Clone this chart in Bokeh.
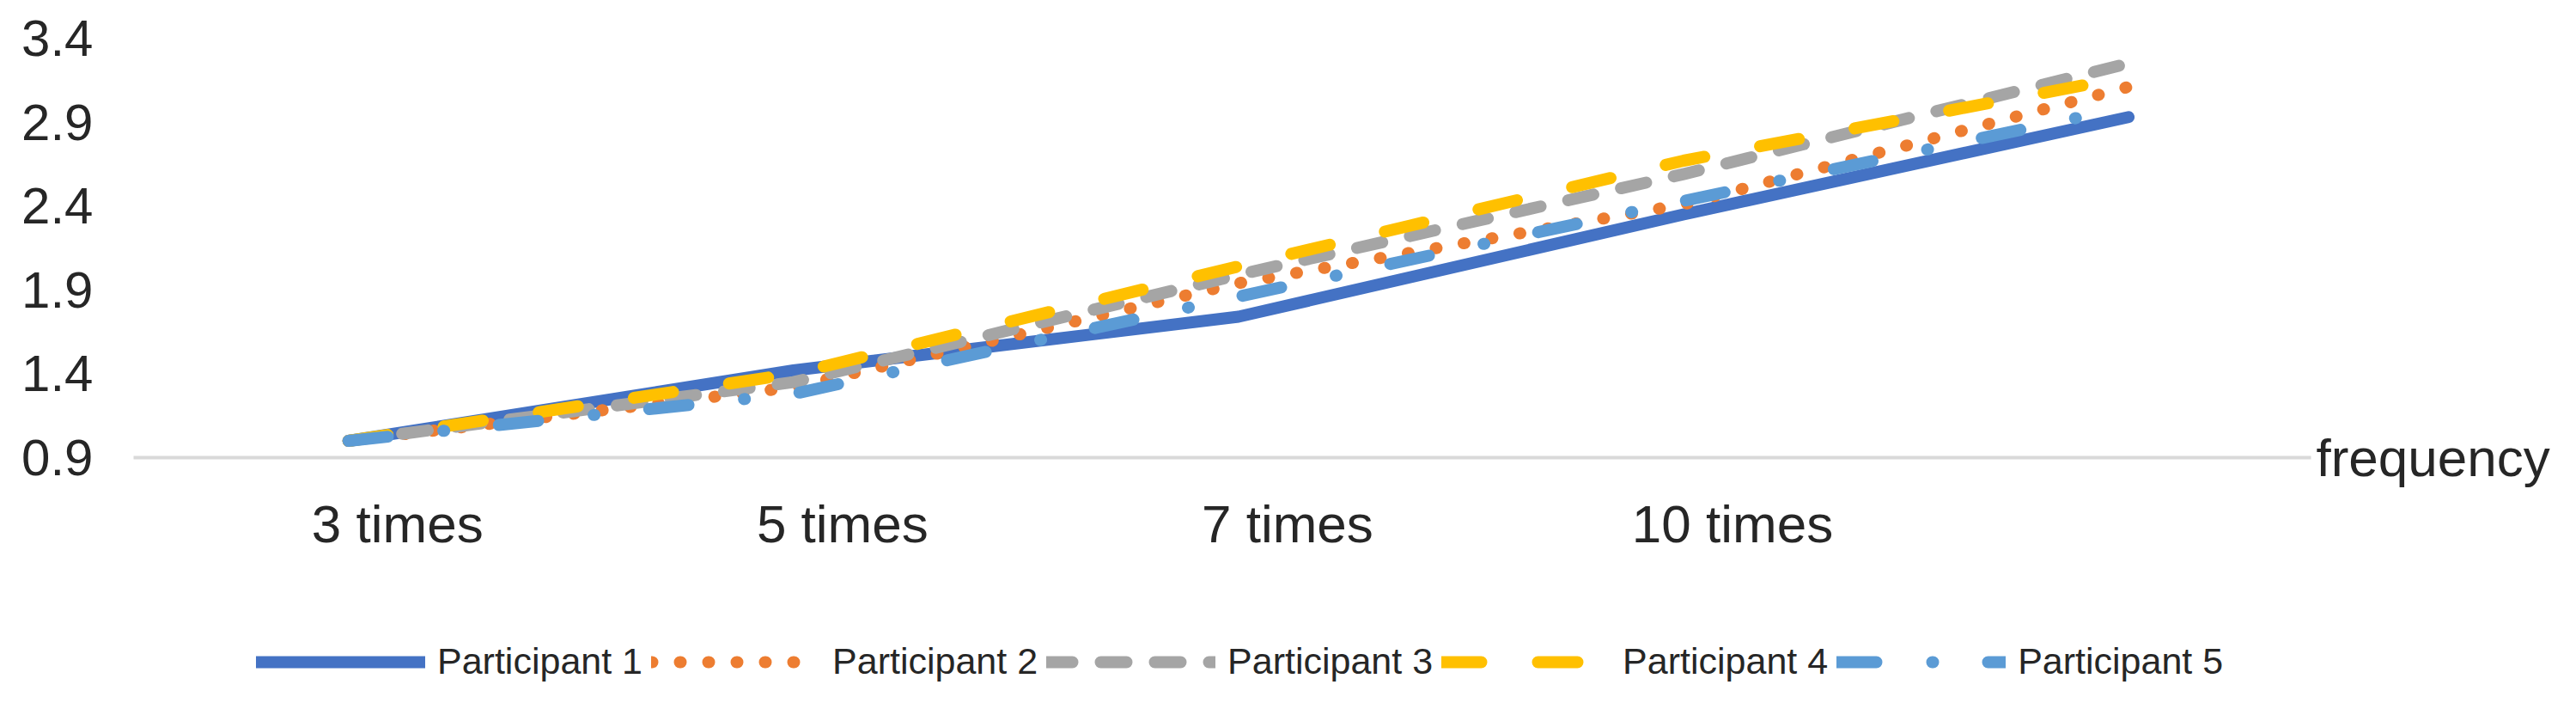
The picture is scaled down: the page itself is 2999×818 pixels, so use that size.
from bokeh.plotting import figure
from bokeh.models import Range1d, FixedTicker, Legend, LegendItem, LinearAxis
from bokeh.layouts import column
from bokeh.embed import file_html
from bokeh.resources import INLINE

# ---- data ----
categories = ["3 times", "5 times", "7 times", "10 times"]
x_points = [0, 1, 2, 3, 4]
participant_1 = [1.0, 1.42, 1.74, 2.35, 2.93]
participant_2 = [1.0, 1.32, 1.94, 2.41, 3.11]
participant_3 = [1.0, 1.35, 1.99, 2.59, 3.25]
participant_4 = [1.0, 1.40, 2.04, 2.67, 3.17]
participant_5 = [1.0, 1.28, 1.86, 2.43, 2.99]
series_names = ["Participant 1", "Participant 2", "Participant 3", "Participant 4", "Participant 5"]
y_ticks = [0.9, 1.4, 1.9, 2.4, 2.9, 3.4]
axis_title = "frequency"

# ---- styles ----
colors = ["#4472C4", "#ED7D31", "#A5A5A5", "#FFC000", "#5B9BD5"]
dashes = ["solid", "1 32", "30 33", "46 66", "46 65 1 64"]
label_offset = 0.11
FONT = "Liberation Sans"
TXT = "#262626"
W = 2980

p = figure(width=W, height=652, output_backend="svg", toolbar_location=None,
           x_range=Range1d(-0.483, 4.41), y_range=Range1d(0.9, 3.4),
           min_border_left=155, min_border_right=290, min_border_top=44,
           min_border_bottom=120)
p.outline_line_color = None
p.grid.visible = False

# x axis
xa = p.xaxis[0]
tick_pos = [i + label_offset for i in range(len(categories))]
xa.ticker = FixedTicker(ticks=tick_pos)
xa.major_label_overrides = {t: c for t, c in zip(tick_pos, categories)}
xa.major_tick_line_color = None
xa.minor_tick_line_color = None
xa.major_tick_out = 0
xa.major_tick_in = 0
xa.axis_line_color = "#D9D9D9"
xa.axis_line_width = 4
xa.major_label_standoff = 42
xa.major_label_text_font = FONT
xa.major_label_text_font_size = "62px"
xa.major_label_text_color = TXT

# y axis
ya = p.yaxis[0]
ya.ticker = FixedTicker(ticks=y_ticks)
ya.axis_line_color = None
ya.major_tick_line_color = None
ya.minor_tick_line_color = None
ya.major_tick_out = 0
ya.major_tick_in = 0
ya.major_label_standoff = 47
ya.major_label_text_font = FONT
ya.major_label_text_font_size = "60px"
ya.major_label_text_color = TXT

# axis title "frequency" at the right end of the category axis
ra = LinearAxis(ticker=FixedTicker(ticks=[y_ticks[0]]),
                major_label_overrides={y_ticks[0]: axis_title})
ra.axis_line_color = None
ra.major_tick_line_color = None
ra.minor_tick_line_color = None
ra.major_tick_out = 0
ra.major_tick_in = 0
ra.major_label_standoff = 6
ra.major_label_text_font = FONT
ra.major_label_text_font_size = "62px"
ra.major_label_text_color = TXT
p.add_layout(ra, "right")

all_series = [participant_1, participant_2, participant_3, participant_4, participant_5]
for ys, c, d in zip(all_series, colors, dashes):
    p.line(x_points, ys, line_color=c, line_width=14, line_dash=d,
           line_cap="round", line_join="round")

# ---- legend strip (separate figure under the chart) ----
lg = figure(width=W, height=148, output_backend="svg", toolbar_location=None,
            x_range=Range1d(100, 101), y_range=Range1d(100, 101),
            min_border=0, x_axis_type=None, y_axis_type=None)
lg.outline_line_color = None
lg.grid.visible = False
items = []
for name, ys, c, d in zip(series_names, all_series, colors, dashes):
    r = lg.line(x_points, ys, line_color=c, line_width=14, line_dash=d,
                line_cap="round", line_join="round")
    items.append(LegendItem(label=name, renderers=[r]))

legend = Legend(items=items, orientation="horizontal", location=(143, 6),
                glyph_width=197, glyph_height=40, label_height=40,
                label_standoff=14, spacing=10, padding=0, margin=0,
                border_line_color=None, background_fill_alpha=0,
                label_text_font=FONT, label_text_font_size="43px",
                label_text_color=TXT, label_text_baseline="alphabetic")
lg.add_layout(legend)

layout = column(p, lg, spacing=0)
open("out.html", "w").write(file_html(layout, INLINE))
